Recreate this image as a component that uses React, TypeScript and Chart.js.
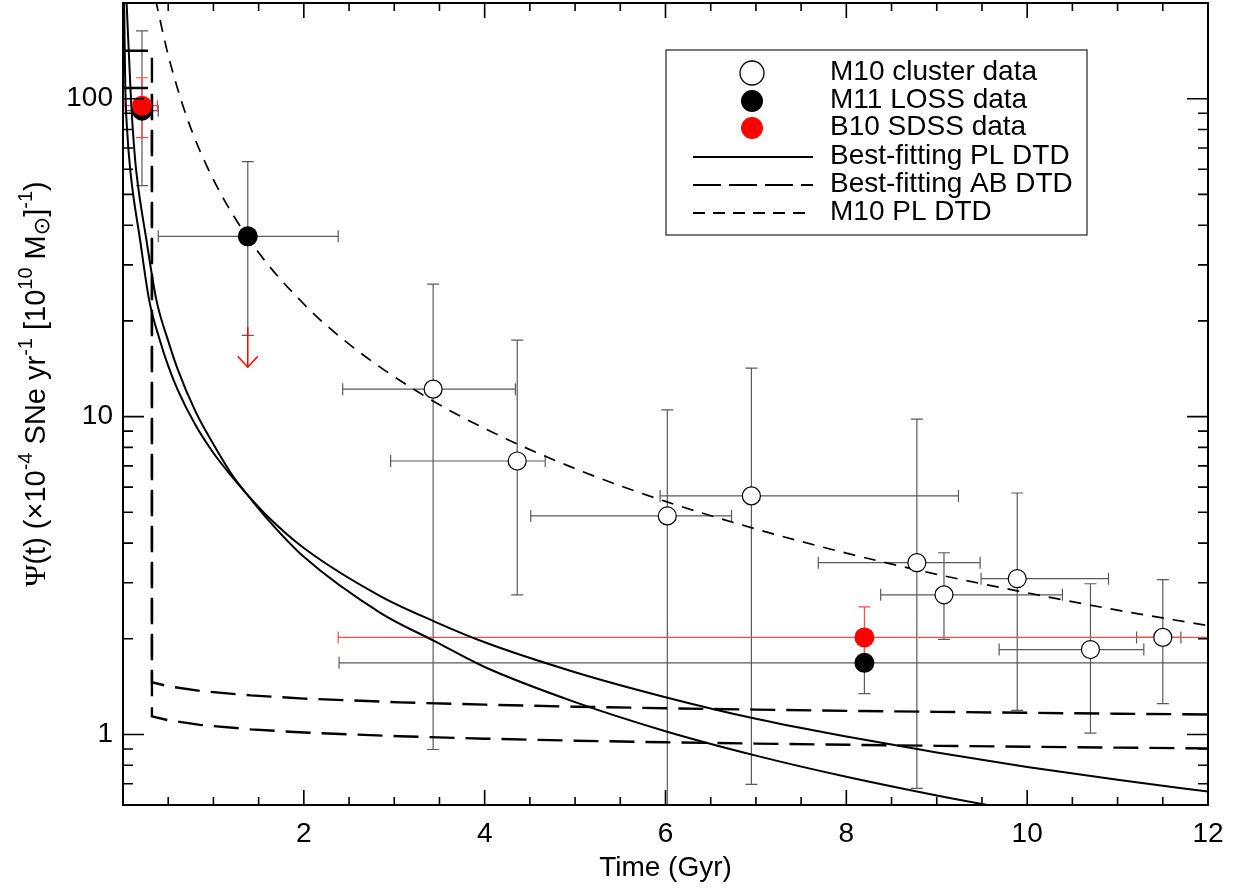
import React, { useEffect, useRef } from 'react';
import { Chart, registerables } from 'chart.js';

Chart.register(...registerables);

// ---------- data ----------
// M10 cluster data (open circles)
const clusterT = [3.43, 4.36, 6.02, 6.95, 8.78, 9.08, 9.89, 10.7, 11.5];
const clusterRate = [12.2, 7.25, 4.87, 5.63, 3.47, 2.75, 3.09, 1.85, 2.02];
const clusterTLo = [2.43, 2.96, 4.51, 5.94, 7.69, 8.38, 9.49, 9.69, 11.21];
const clusterTHi = [4.34, 4.67, 6.73, 9.24, 9.48, 10.39, 10.9, 11.29, 11.7];
const clusterRateLo = [0.897, 2.75, 0.5, 0.697, 0.677, 1.99, 1.19, 1.01, 1.25];
const clusterRateHi = [26.1, 17.4, 10.5, 14.2, 9.82, 3.73, 5.75, 2.98, 3.07];

// M11 LOSS data (filled black)
const lossT = [0.21, 1.38, 8.2];
const lossRate = [91.7, 36.9, 1.68];
const lossTLo = [0.03, 0.39, 2.39];
const lossTHi = [0.39, 2.38, 14];
const lossRateLo = [53.3, 18.0, 1.345];
const lossRateHi = [163.5, 63.4, 2.0];
// M11 upper limit (red arrow)
const lossLimitT = [1.38];
const lossLimitFrom = [19.1];
const lossLimitTo = [14.3];

// B10 SDSS data (filled red)
const sdssT = [0.21, 8.2];
const sdssRate = [95.1, 2.02];
const sdssTLo = [0.01, 2.38];
const sdssTHi = [0.38, 14];
const sdssRateLo = [75.4, 1.7];
const sdssRateHi = [116.4, 2.52];

// Best-fitting PL DTD (two solid curves)
const plAT = [0.012, 0.025, 0.045, 0.085, 0.19, 0.29, 0.41, 0.5, 0.6, 0.8, 1.0, 1.2, 1.37, 1.6, 2.0, 2.85, 3.44, 4, 5, 6, 7, 8, 9, 10, 11, 12];
const plARate = [200, 110, 80, 58, 35.8, 23.2, 17.3, 14.44, 12.23, 9.42, 7.68, 6.5, 5.7, 4.85, 3.86, 2.72, 2.27, 1.95, 1.57, 1.31, 1.12, 0.985, 0.877, 0.79, 0.72, 0.661];
const plBT = [0.04, 0.088, 0.12, 0.15, 0.26, 0.37, 0.5, 0.6, 0.8, 1.0, 1.2, 1.37, 1.6, 2.0, 2.85, 3.44, 4, 5, 6, 7, 8, 9, 10, 11, 12];
const plBRate = [200, 100, 72, 58, 35.8, 23.2, 17.3, 14.21, 10.4, 8.18, 6.6, 5.7, 4.75, 3.62, 2.41, 1.97, 1.63, 1.264, 1.024, 0.858, 0.736, 0.643, 0.57, 0.511, 0.46];

// Best-fitting AB DTD (two long-dashed curves)
const abT = [0, 0.32, 0.32, 0.5, 0.85, 1.41, 2, 3.06, 4, 5, 6, 7, 8.15, 9, 10, 11, 12];
const abARate = [141.5, 141.5, 1.46, 1.418, 1.371, 1.327, 1.297, 1.262, 1.241, 1.223, 1.209, 1.197, 1.185, 1.178, 1.17, 1.162, 1.156];
const abBRate = [108, 108, 1.14, 1.109, 1.072, 1.038, 1.014, 0.987, 0.97, 0.956, 0.945, 0.936, 0.927, 0.921, 0.915, 0.909, 0.904];

// M10 PL DTD (short-dashed curve)
const m10T = [0.36, 0.5, 0.7, 1.0, 1.46, 2.0, 2.5, 3.32, 4, 5, 6, 7, 8, 9, 10, 11, 12];
const m10Rate = [205, 137, 88.4, 55.6, 34.0, 22.6, 16.9, 11.68, 9.17, 6.86, 5.41, 4.43, 3.72, 3.19, 2.79, 2.46, 2.2];

// axis ticks
const xTickValues = [0, 0.5, 1, 1.5, 2, 2.5, 3, 3.5, 4, 4.5, 5, 5.5, 6, 6.5, 7, 7.5, 8, 8.5, 9, 9.5, 10, 10.5, 11, 11.5, 12];
const xTickLabels = ['2', '4', '6', '8', '10', '12'];
const yTickValues = [0.6, 0.7, 0.8, 0.9, 1, 2, 3, 4, 5, 6, 7, 8, 9, 10, 20, 30, 40, 50, 60, 70, 80, 90, 100, 200];
const yTickLabels = ['1', '10', '100'];

const legendLabels = ['M10 cluster data', 'M11 LOSS data', 'B10 SDSS data', 'Best-fitting PL DTD', 'Best-fitting AB DTD', 'M10 PL DTD'];

const FONT = "'Liberation Sans', Arial, Helvetica, sans-serif";
const pts = (xs: number[], ys: number[]) => xs.map((x, i) => ({ x, y: ys[i] }));

const errGroups = [
  { t: clusterT, r: clusterRate, tLo: clusterTLo, tHi: clusterTHi, rLo: clusterRateLo, rHi: clusterRateHi, color: '#5a5a5a' },
  { t: lossT, r: lossRate, tLo: lossTLo, tHi: lossTHi, rLo: lossRateLo, rHi: lossRateHi, color: '#5a5a5a' },
  { t: sdssT, r: sdssRate, tLo: sdssTLo, tHi: sdssTHi, rLo: sdssRateLo, rHi: sdssRateHi, color: '#ff4a4a' },
];

const errorBarPlugin = {
  id: 'errorBars',
  beforeDatasetsDraw(chart: any) {
    const { ctx, chartArea: a, scales } = chart;
    const xs = scales.x, ys = scales.y;
    ctx.save();
    ctx.beginPath();
    ctx.rect(a.left, a.top, a.right - a.left, a.bottom - a.top);
    ctx.clip();
    ctx.lineWidth = 1.2;
    const cap = 6;
    errGroups.forEach((g) => {
      ctx.strokeStyle = g.color;
      g.t.forEach((t, i) => {
        const px = xs.getPixelForValue(t);
        const py = ys.getPixelForValue(g.r[i]);
        const x1 = xs.getPixelForValue(g.tLo[i]);
        const x2 = xs.getPixelForValue(g.tHi[i]);
        const y1 = ys.getPixelForValue(g.rLo[i]);
        const y2 = ys.getPixelForValue(g.rHi[i]);
        ctx.beginPath();
        ctx.moveTo(x1, py); ctx.lineTo(x2, py);
        ctx.moveTo(x1, py - cap); ctx.lineTo(x1, py + cap);
        ctx.moveTo(x2, py - cap); ctx.lineTo(x2, py + cap);
        ctx.moveTo(px, y1); ctx.lineTo(px, y2);
        ctx.moveTo(px - cap, y1); ctx.lineTo(px + cap, y1);
        ctx.moveTo(px - cap, y2); ctx.lineTo(px + cap, y2);
        ctx.stroke();
      });
    });
    // upper-limit arrow
    ctx.strokeStyle = '#ff0000';
    ctx.lineWidth = 1.5;
    lossLimitT.forEach((t, i) => {
      const px = xs.getPixelForValue(t);
      const yA = ys.getPixelForValue(lossLimitFrom[i]);
      const yB = ys.getPixelForValue(lossLimitTo[i]);
      ctx.beginPath();
      ctx.moveTo(px, yA); ctx.lineTo(px, yB);
      ctx.moveTo(px - 10, yB - 11); ctx.lineTo(px, yB); ctx.lineTo(px + 10, yB - 11);
      ctx.stroke();
    });
    ctx.restore();
  },
};

const frameTicksPlugin = {
  id: 'frameTicks',
  afterDraw(chart: any) {
    const { ctx, chartArea: a, scales } = chart;
    const xs = scales.x, ys = scales.y;
    ctx.save();
    ctx.strokeStyle = '#000';
    ctx.lineWidth = 1.6;
    ctx.beginPath();
    xs.ticks.forEach((tk: any) => {
      const px = xs.getPixelForValue(tk.value);
      if (px <= a.left + 1 || px >= a.right - 1) return;
      const len = tk.value % 2 === 0 ? 15 : 8;
      ctx.moveTo(px, a.bottom); ctx.lineTo(px, a.bottom - len);
      ctx.moveTo(px, a.top); ctx.lineTo(px, a.top + len);
    });
    ys.ticks.forEach((tk: any) => {
      const py = ys.getPixelForValue(tk.value);
      if (py <= a.top + 1 || py >= a.bottom - 1) return;
      const major = [1, 10, 100].includes(tk.value);
      const len = major ? 21 : 10;
      ctx.moveTo(a.left, py); ctx.lineTo(a.left + len, py);
      ctx.moveTo(a.right, py); ctx.lineTo(a.right - len, py);
    });
    ctx.stroke();
    ctx.lineWidth = 2;
    ctx.strokeRect(a.left, a.top, a.right - a.left, a.bottom - a.top);

    // axis titles
    ctx.fillStyle = '#000';
    ctx.font = `28px ${FONT}`;
    ctx.textAlign = 'center';
    ctx.textBaseline = 'alphabetic';
    ctx.fillText('Time (Gyr)', (a.left + a.right) / 2, 876);

    // y title with superscripts
    const main = `29px ${FONT}`;
    const small = `20px ${FONT}`;
    const pieces: { t: string; f: string; dy: number }[] = [
      { t: 'Ψ', f: "30px 'Liberation Serif', 'DejaVu Serif', serif", dy: 0 },
      { t: '(t) (×10', f: main, dy: 0 },
      { t: '-4', f: small, dy: -13 },
      { t: ' SNe yr', f: main, dy: 0 },
      { t: '-1', f: small, dy: -13 },
      { t: ' [10', f: main, dy: 0 },
      { t: '10', f: small, dy: -13 },
      { t: ' M', f: main, dy: 0 },
      { t: '⊙', f: `22px 'DejaVu Sans', ${FONT}`, dy: 4 },
      { t: ']', f: main, dy: 0 },
      { t: '-1', f: small, dy: -13 },
      { t: ')', f: main, dy: 0 },
    ];
    let total = 0;
    pieces.forEach((p) => { ctx.font = p.f; total += ctx.measureText(p.t).width; });
    ctx.translate(45, 384);
    ctx.rotate(-Math.PI / 2);
    ctx.textAlign = 'left';
    let cx = -total / 2;
    pieces.forEach((p) => {
      ctx.font = p.f;
      ctx.fillText(p.t, cx, p.dy);
      cx += ctx.measureText(p.t).width;
    });
    ctx.restore();
  },
};

const legendPlugin = {
  id: 'customLegend',
  afterDraw(chart: any) {
    const { ctx } = chart;
    ctx.save();
    ctx.strokeStyle = '#222';
    ctx.lineWidth = 1.2;
    ctx.strokeRect(666, 50, 421, 185);
    const rows = [73, 101, 128, 157, 185, 213];
    const mx = 752;
    ctx.lineWidth = 1.3;
    ctx.beginPath(); ctx.arc(mx, rows[0], 12, 0, Math.PI * 2);
    ctx.fillStyle = '#fff'; ctx.fill(); ctx.strokeStyle = '#000'; ctx.stroke();
    ctx.beginPath(); ctx.arc(mx, rows[1], 11, 0, Math.PI * 2); ctx.fillStyle = '#000'; ctx.fill();
    ctx.beginPath(); ctx.arc(mx, rows[2], 11, 0, Math.PI * 2); ctx.fillStyle = '#ff0000'; ctx.fill();
    const lines = [
      { y: rows[3], dash: [], w: 2 },
      { y: rows[4], dash: [28, 8], w: 2.2 },
      { y: rows[5], dash: [12, 8], w: 1.8 },
    ];
    lines.forEach((l) => {
      ctx.setLineDash(l.dash);
      ctx.lineWidth = l.w;
      ctx.strokeStyle = '#000';
      ctx.beginPath(); ctx.moveTo(693, l.y); ctx.lineTo(813, l.y); ctx.stroke();
    });
    ctx.setLineDash([]);
    ctx.fillStyle = '#000';
    ctx.font = `28px ${FONT}`;
    ctx.textAlign = 'left';
    ctx.textBaseline = 'alphabetic';
    legendLabels.forEach((s, i) => ctx.fillText(s, 830, rows[i] + 7));
    ctx.restore();
  },
};

export default function App() {
  const ref = useRef<HTMLCanvasElement>(null);
  useEffect(() => {
    const canvas = ref.current;
    if (!canvas) return;
    const curve = (label: string, data: any, dash: number[], width: number, mono: boolean) => ({
      label,
      data,
      showLine: true,
      borderColor: '#000',
      backgroundColor: '#000',
      borderWidth: width,
      borderDash: dash,
      pointRadius: 0,
      pointHoverRadius: 0,
      fill: false,
      tension: 0,
      cubicInterpolationMode: mono ? 'monotone' : 'default',
      order: 5,
    });
    const chart = new Chart(canvas, {
      type: 'scatter',
      data: {
        datasets: [
          curve('Best-fitting PL DTD', pts(plAT, plARate), [], 2, true),
          curve('Best-fitting PL DTD (2)', pts(plBT, plBRate), [], 2, true),
          curve('Best-fitting AB DTD', pts(abT, abARate), [25, 11], 2.4, false),
          curve('Best-fitting AB DTD (2)', pts(abT, abBRate), [25, 11], 2.4, false),
          curve('M10 PL DTD', pts(m10T, m10Rate), [12, 9], 1.7, true),
          {
            label: 'M10 cluster data',
            data: pts(clusterT, clusterRate),
            pointRadius: 9,
            pointBackgroundColor: '#fff',
            pointBorderColor: '#000',
            pointBorderWidth: 1.2,
            order: 3,
          },
          {
            label: 'M11 LOSS data',
            data: pts(lossT, lossRate),
            pointRadius: 10,
            pointBackgroundColor: '#000',
            pointBorderColor: '#000',
            pointBorderWidth: 0,
            order: 2,
          },
          {
            label: 'B10 SDSS data',
            data: pts(sdssT, sdssRate),
            pointRadius: 10,
            pointBackgroundColor: '#ff0000',
            pointBorderColor: '#ff0000',
            pointBorderWidth: 0,
            order: 1,
          },
        ] as any,
      },
      options: {
        responsive: false,
        animation: false,
        devicePixelRatio: 1,
        layout: { autoPadding: false, padding: { left: 0, right: 30, top: 3, bottom: 0 } },
        plugins: { legend: { display: false }, tooltip: { enabled: false }, title: { display: false } },
        scales: {
          x: {
            type: 'linear',
            min: 0,
            max: 12,
            grid: { display: false, drawTicks: false },
            border: { display: false },
            afterBuildTicks: (s: any) => { s.ticks = xTickValues.map((v) => ({ value: v })); },
            afterFit: (s: any) => { s.height = 83; s.paddingLeft = 0; s.paddingRight = 0; },
            ticks: {
              autoSkip: false,
              maxRotation: 0,
              padding: 12,
              color: '#000',
              font: { family: FONT, size: 28 },
              callback: (v: any) => (xTickLabels.includes(String(v)) ? String(v) : ''),
            },
          },
          y: {
            type: 'logarithmic',
            min: 0.6,
            max: 200,
            grid: { display: false, drawTicks: false },
            border: { display: false },
            afterBuildTicks: (s: any) => { s.ticks = yTickValues.map((v) => ({ value: v })); },
            afterFit: (s: any) => { s.width = 123; s.paddingTop = 0; s.paddingBottom = 0; },
            ticks: {
              autoSkip: false,
              padding: 10,
              color: '#000',
              font: { family: FONT, size: 28 },
              callback: (v: any) => (yTickLabels.includes(String(v)) ? String(v) : ''),
            },
          },
        },
      } as any,
      plugins: [errorBarPlugin, frameTicksPlugin, legendPlugin],
    });
    return () => chart.destroy();
  }, []);
  return (
    <div style={{ position: 'fixed', left: 0, top: 0, width: 1238, height: 888, background: '#fff' }}>
      <canvas ref={ref} width={1238} height={888} style={{ width: 1238, height: 888 }} />
    </div>
  );
}
